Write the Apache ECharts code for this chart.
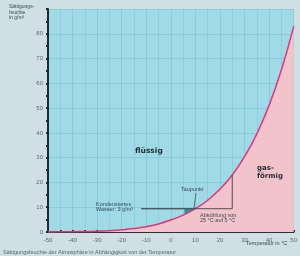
<!DOCTYPE html>
<html>
<head>
<meta charset="utf-8">
<script src="https://cdn.jsdelivr.net/npm/echarts@6/dist/echarts.min.js"></script>
<style>
  html, body { margin: 0; padding: 0; background: #cfdfe3; }
  #chart { width: 300px; height: 256px; }
</style>
</head>
<body>
<div id="chart"></div>
<script>
// Sättigungsfeuchte (g/m³) je Temperatur (°C)
var temps = [-50, -45, -40, -35, -30, -25, -20, -15, -10, -5, 0, 5, 10, 15, 20, 25, 30, 35, 40, 45, 50];
var feuchte = [0.04, 0.07, 0.12, 0.2, 0.34, 0.55, 0.88, 1.39, 2.14, 3.25, 4.85, 6.8, 9.4, 12.8, 17.3, 23.0, 30.4, 39.6, 51.1, 65.4, 83.0];
// Abkühlung 25 °C -> Taupunkt, Linie zur Beschriftung
var abkuehlung = [[25, 23.0], [25, 9.4], [-12, 9.4]];
// kondensiertes Wasser (Fläche am Taupunkt)
var kondensX = [5.5, 10.2];
var kondensY = [7.2, 9.4];

var chart = echarts.init(document.getElementById('chart'));
var kurve = temps.map(function (t, i) { return [t, feuchte[i]]; });
var txt = '#3a4a55';
var small = { fontFamily: 'Liberation Sans', fontSize: 6, fill: txt };

chart.setOption({
  backgroundColor: '#cfdfe3',
  animation: false,
  grid: { left: 48, right: 2, top: 9, bottom: 24, show: true, backgroundColor: '#9fdae6', borderWidth: 0 },
  xAxis: {
    type: 'value', min: -50, max: 50, interval: 10,
    axisLine: { onZero: false, lineStyle: { color: '#2a3338', width: 2 } },
    axisTick: { inside: true, length: 2, lineStyle: { color: '#2a3338', width: 2 } },
    minorTick: { show: true, splitNumber: 2, length: 2, lineStyle: { color: '#2a3338', width: 2 } },
    axisLabel: { color: '#5d6a72', fontSize: 6, fontFamily: 'Liberation Sans', margin: 5 },
    splitLine: { show: true, lineStyle: { color: 'rgba(60,150,175,0.22)', width: 1 } },
    minorSplitLine: { show: true, lineStyle: { color: 'rgba(60,150,175,0.16)', width: 1 } }
  },
  yAxis: {
    type: 'value', min: 0, max: 90, interval: 10,
    axisLine: { show: true, onZero: false, lineStyle: { color: '#1f2a30', width: 2 } },
    axisTick: { show: true, length: 2, lineStyle: { color: '#1f2a30', width: 2 } },
    minorTick: { show: true, splitNumber: 2, length: 2, lineStyle: { color: '#1f2a30', width: 2 } },
    axisLabel: {
      color: '#5d6a72', fontSize: 6, fontFamily: 'Liberation Sans', margin: 5,
      formatter: function (v) { return v === 90 ? '' : v; }
    },
    splitLine: { show: true, lineStyle: { color: 'rgba(60,150,175,0.2)', width: 1 } }
  },
  series: [
    {
      type: 'line', data: abkuehlung, symbol: 'none', z: 2,
      lineStyle: { color: '#4a5358', width: 1 },
      markArea: {
        silent: true,
        itemStyle: { color: '#2a97a6', opacity: 1 },
        data: [[{ coord: [kondensX[0], kondensY[0]] }, { coord: [kondensX[1], kondensY[1]] }]]
      }
    },
    {
      type: 'line', data: kurve, smooth: true, symbol: 'none', z: 3,
      lineStyle: { color: '#d63a7c', width: 1.5 },
      areaStyle: { color: '#f3c3cc', opacity: 1 }
    },
    {
      type: 'line', data: abkuehlung, symbol: 'none', z: 4,
      lineStyle: { color: '#4a5358', width: 1 }
    }
  ],
  graphic: [
    { type: 'text', z: 100, left: 9, top: 4, style: Object.assign({ text: 'Sättigungs-\nfeuchte\nin g/m³', lineHeight: 5.5 }, small, { fontSize: 5 }) },
    { type: 'text', z: 100, left: 135, top: 147, style: { text: 'flüssig', fontFamily: 'DejaVu Sans', fontWeight: 'bold', fontSize: 7.5, fill: '#1e2a36' } },
    { type: 'text', z: 100, left: 257, top: 164, style: { text: 'gas-\nförmig', fontFamily: 'DejaVu Sans', fontWeight: 'bold', fontSize: 7, lineHeight: 8, fill: '#1e2a36' } },
    { type: 'text', z: 100, left: 181, top: 186, style: Object.assign({ text: 'Taupunkt' }, small, { fontSize: 5.5 }) },
    { type: 'line', z: 100, shape: { x1: 196, y1: 193, x2: 194, y2: 208 }, style: { stroke: '#4a5358', lineWidth: 0.8 } },
    { type: 'text', z: 100, left: 96, top: 201, style: Object.assign({ text: 'Kondensiertes\nWasser: 3 g/m³', lineHeight: 5.5 }, small, { fontSize: 5.5 }) },
    { type: 'text', z: 100, left: 200, top: 212, style: Object.assign({ text: 'Abkühlung von\n25 °C auf 5 °C', lineHeight: 5.5 }, small, { fontSize: 5.5 }) },
    { type: 'text', z: 100, left: 246, top: 240, style: Object.assign({ text: 'Temperatur in °C' }, small, { fontSize: 5.5 }) },
    { type: 'text', z: 100, left: 3, top: 249, style: Object.assign({ text: 'Sättigungsfeuchte der Atmosphäre in Abhängigkeit von der Temperatur' }, small, { fontSize: 5.5, fill: '#5a6870' }) }
  ]
});
</script>
</body>
</html>
